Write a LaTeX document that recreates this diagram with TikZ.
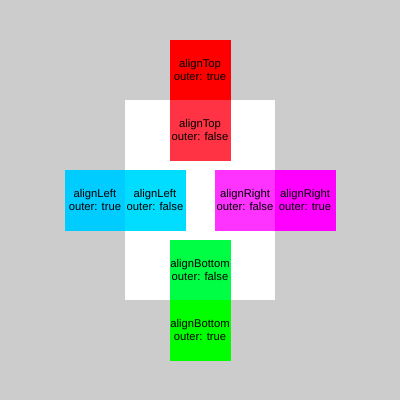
\documentclass[tikz,border=0pt]{standalone}
\usepackage{fontspec}
\setmainfont{Liberation Sans}
\usetikzlibrary{positioning}
\definecolor{bgGray}{RGB}{204,204,204}
\definecolor{topOuter}{RGB}{255,0,0}
\definecolor{topInner}{RGB}{255,51,68}
\definecolor{leftOuter}{RGB}{0,204,255}
\definecolor{leftInner}{RGB}{0,221,255}
\definecolor{rightOuter}{RGB}{255,0,255}
\definecolor{rightInner}{RGB}{255,51,255}
\definecolor{bottomOuter}{RGB}{0,255,0}
\definecolor{bottomInner}{RGB}{0,255,68}
\tikzset{
  tile/.style={fill=#1, draw=#1, line width=0.4pt, minimum width=1.5cm, minimum height=1.5cm,
    inner sep=0pt, outer sep=0pt, align=center, text=black, font=\fontsize{8}{9}\selectfont}
}

\begin{document}
\begin{tikzpicture}[x=0.025cm, y=-0.025cm]
  \fill[bgGray] (0,0) rectangle (400,400);
  \node[fill=white, minimum width=3.75cm, minimum height=5cm, inner sep=0pt, outer sep=0pt] (frame) at (200,200) {};
  % top
  \node[tile=topOuter, above=0pt of frame.north] (topOut) {alignTop\\outer: true};
  \node[tile=topInner, below=0pt of frame.north] (topIn) {alignTop\\outer: false};
  % left
  \node[tile=leftOuter, left=0pt of frame.west] (leftOut) {alignLeft\\outer: true};
  \node[tile=leftInner, right=0pt of frame.west] (leftIn) {alignLeft\\outer: false};
  % right
  \node[tile=rightInner, left=0pt of frame.east] (rightIn) {alignRight\\outer: false};
  \node[tile=rightOuter, right=0pt of frame.east] (rightOut) {alignRight\\outer: true};
  % bottom
  \node[tile=bottomInner, above=0pt of frame.south] (bottomIn) {alignBottom\\outer: false};
  \node[tile=bottomOuter, below=0pt of frame.south] (bottomOut) {alignBottom\\outer: true};
\end{tikzpicture}
\end{document}
